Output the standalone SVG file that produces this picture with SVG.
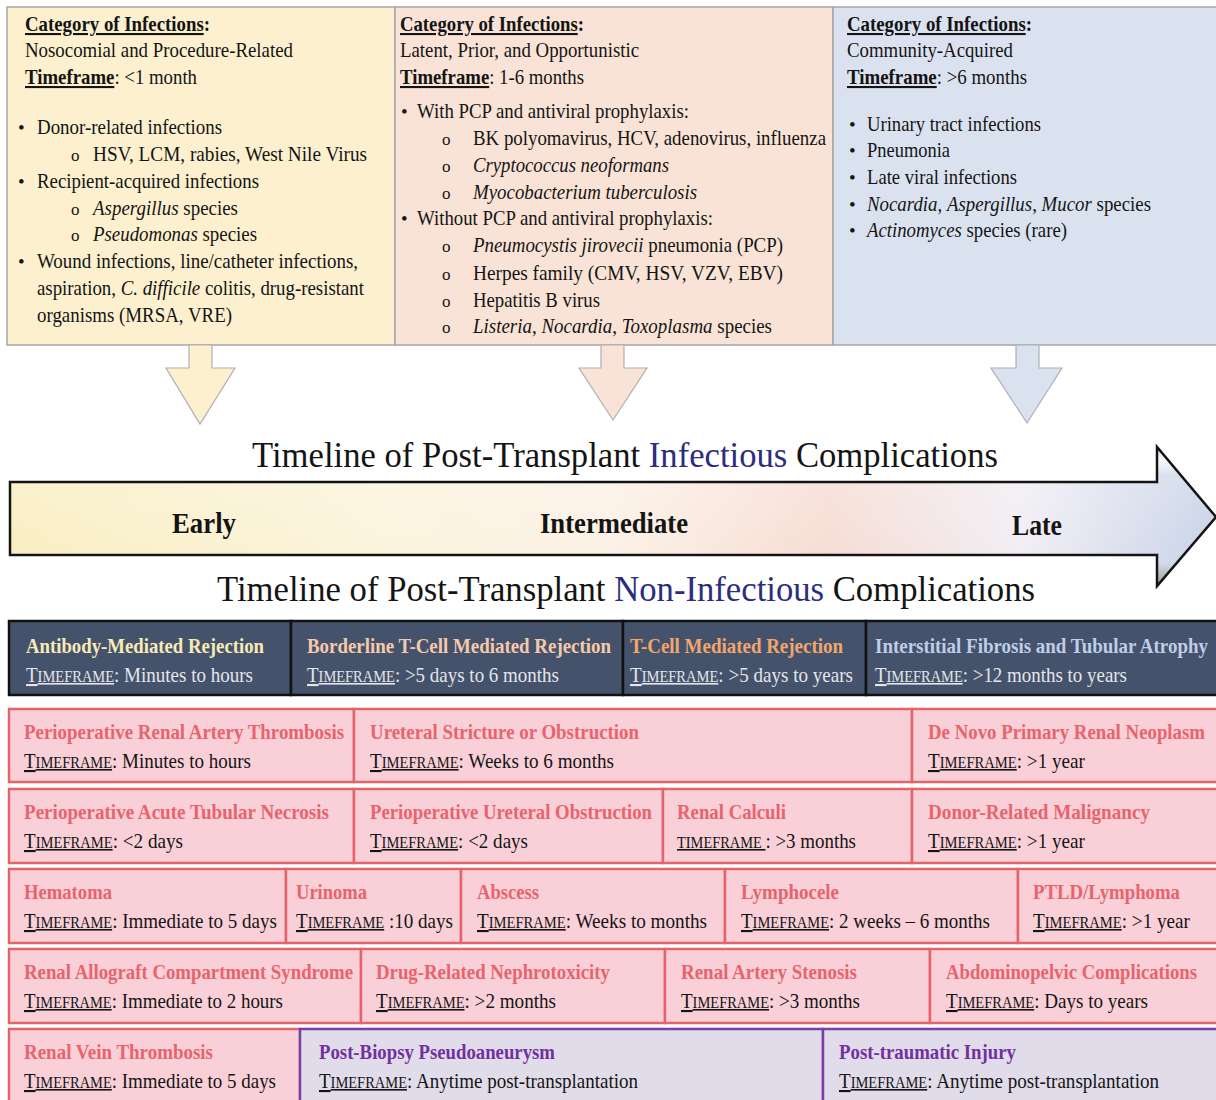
<svg xmlns="http://www.w3.org/2000/svg" width="1216" height="1100" viewBox="0 0 1216 1100">
<defs>
<style>
text{font-family:"Liberation Serif","Times New Roman",serif;font-size:21px;fill:#141414}
.b{font-weight:bold}
.i{font-style:italic}
.u{text-decoration:underline}
.sc{font-size:16px}
.bul{font-size:19px}
.sub{font-size:17px}
.pt{font-weight:bold;fill:#e8636c}
.vt{font-weight:bold;fill:#7230a0}
.dk{fill:#e4e6ea}
.pink{fill:#f9d0d8;stroke:#e5636b;stroke-width:2.5}
.purp{fill:#e1dcea;stroke:#7b3ea6;stroke-width:2.5}
.dark{fill:#44536b;stroke:#111;stroke-width:2.5}
.arr{stroke:#aeb0b4;stroke-width:1.2}
.big{font-size:36px}
.ax{font-size:30px;font-weight:bold}
</style>
<linearGradient id="tl" x1="0" y1="0" x2="1" y2="0">
<stop offset="0" stop-color="#f9eec2"/>
<stop offset="0.3" stop-color="#fcf4dc"/>
<stop offset="0.5" stop-color="#fcf1e6"/>
<stop offset="0.68" stop-color="#f6ddd4"/>
<stop offset="0.84" stop-color="#f1eef4"/>
<stop offset="1" stop-color="#c8d3e8"/>
</linearGradient>
<linearGradient id="bev" x1="0" y1="0" x2="0" y2="1">
<stop offset="0" stop-color="#ffffff" stop-opacity="0.1"/>
<stop offset="0.1" stop-color="#ffffff" stop-opacity="0.85"/>
<stop offset="0.2" stop-color="#ffffff" stop-opacity="0.2"/>
<stop offset="0.8" stop-color="#ffffff" stop-opacity="0"/>
<stop offset="0.9" stop-color="#6b5a40" stop-opacity="0.22"/>
<stop offset="1" stop-color="#3a3020" stop-opacity="0.35"/>
</linearGradient>
</defs>

<!-- Top infection boxes -->
<g id="box-early">
<rect x="7" y="7" width="388" height="338" fill="#fcf0cf" stroke="#a6a6a6" stroke-width="1.5"/>
<text x="25" y="31" class="b" textLength="185" lengthAdjust="spacingAndGlyphs"><tspan class="u">Category of Infections</tspan>:</text>
<text x="25" y="57" textLength="268" lengthAdjust="spacingAndGlyphs">Nosocomial and Procedure-Related</text>
<text x="25" y="84" textLength="172" lengthAdjust="spacingAndGlyphs"><tspan class="b u">Timeframe</tspan>: &lt;1 month</text>
<text x="18" y="134" class="bul">•</text>
<text x="37" y="134" textLength="185" lengthAdjust="spacingAndGlyphs">Donor-related infections</text>
<text x="71" y="161" class="sub">o</text>
<text x="93" y="161" textLength="274" lengthAdjust="spacingAndGlyphs">HSV, LCM, rabies, West Nile Virus</text>
<text x="18" y="188" class="bul">•</text>
<text x="37" y="188" textLength="222" lengthAdjust="spacingAndGlyphs">Recipient-acquired infections</text>
<text x="71" y="215" class="sub">o</text>
<text x="93" y="215" textLength="145" lengthAdjust="spacingAndGlyphs"><tspan class="i">Aspergillus</tspan> species</text>
<text x="71" y="241" class="sub">o</text>
<text x="93" y="241" textLength="164" lengthAdjust="spacingAndGlyphs"><tspan class="i">Pseudomonas</tspan> species</text>
<text x="18" y="268" class="bul">•</text>
<text x="37" y="268" textLength="321" lengthAdjust="spacingAndGlyphs">Wound infections, line/catheter infections,</text>
<text x="37" y="295" textLength="327" lengthAdjust="spacingAndGlyphs">aspiration, <tspan class="i">C. difficile</tspan> colitis, drug-resistant</text>
<text x="37" y="322" textLength="195" lengthAdjust="spacingAndGlyphs">organisms (MRSA, VRE)</text>
</g>

<g id="box-intermediate">
<rect x="395" y="7" width="438" height="338" fill="#f9e3d6" stroke="#a6a6a6" stroke-width="1.5"/>
<text x="400" y="31" class="b" textLength="184" lengthAdjust="spacingAndGlyphs"><tspan class="u">Category of Infections</tspan>:</text>
<text x="400" y="57" textLength="239" lengthAdjust="spacingAndGlyphs">Latent, Prior, and Opportunistic</text>
<text x="400" y="84" textLength="184" lengthAdjust="spacingAndGlyphs"><tspan class="b u">Timeframe</tspan>: 1-6 months</text>
<text x="401" y="118" class="bul">•</text>
<text x="417" y="118" textLength="272" lengthAdjust="spacingAndGlyphs">With PCP and antiviral prophylaxis:</text>
<text x="442" y="145" class="sub">o</text>
<text x="473" y="145" textLength="353" lengthAdjust="spacingAndGlyphs">BK polyomavirus, HCV, adenovirus, influenza</text>
<text x="442" y="172" class="sub">o</text>
<text x="473" y="172" class="i" textLength="196" lengthAdjust="spacingAndGlyphs">Cryptococcus neoformans</text>
<text x="442" y="199" class="sub">o</text>
<text x="473" y="199" class="i" textLength="224" lengthAdjust="spacingAndGlyphs">Myocobacterium tuberculosis</text>
<text x="401" y="225" class="bul">•</text>
<text x="417" y="225" textLength="296" lengthAdjust="spacingAndGlyphs">Without PCP and antiviral prophylaxis:</text>
<text x="442" y="252" class="sub">o</text>
<text x="473" y="252" textLength="310" lengthAdjust="spacingAndGlyphs"><tspan class="i">Pneumocystis jirovecii</tspan> pneumonia (PCP)</text>
<text x="442" y="280" class="sub">o</text>
<text x="473" y="280" textLength="310" lengthAdjust="spacingAndGlyphs">Herpes family (CMV, HSV, VZV, EBV)</text>
<text x="442" y="307" class="sub">o</text>
<text x="473" y="307" textLength="127" lengthAdjust="spacingAndGlyphs">Hepatitis B virus</text>
<text x="442" y="333" class="sub">o</text>
<text x="473" y="333" textLength="299" lengthAdjust="spacingAndGlyphs"><tspan class="i">Listeria</tspan>, <tspan class="i">Nocardia</tspan>, <tspan class="i">Toxoplasma</tspan> species</text>
</g>

<g id="box-late">
<rect x="833" y="7" width="390" height="338" fill="#dbe2ef" stroke="#a6a6a6" stroke-width="1.5"/>
<text x="847" y="31" class="b" textLength="185" lengthAdjust="spacingAndGlyphs"><tspan class="u">Category of Infections</tspan>:</text>
<text x="847" y="57" textLength="166" lengthAdjust="spacingAndGlyphs">Community-Acquired</text>
<text x="847" y="84" textLength="180" lengthAdjust="spacingAndGlyphs"><tspan class="b u">Timeframe</tspan>: &gt;6 months</text>
<text x="849" y="131" class="bul">•</text>
<text x="867" y="131" textLength="174" lengthAdjust="spacingAndGlyphs">Urinary tract infections</text>
<text x="849" y="157" class="bul">•</text>
<text x="867" y="157" textLength="83" lengthAdjust="spacingAndGlyphs">Pneumonia</text>
<text x="849" y="184" class="bul">•</text>
<text x="867" y="184" textLength="150" lengthAdjust="spacingAndGlyphs">Late viral infections</text>
<text x="849" y="211" class="bul">•</text>
<text x="867" y="211" textLength="284" lengthAdjust="spacingAndGlyphs"><tspan class="i">Nocardia</tspan>, <tspan class="i">Aspergillus</tspan>, <tspan class="i">Mucor</tspan> species</text>
<text x="849" y="237" class="bul">•</text>
<text x="867" y="237" textLength="200" lengthAdjust="spacingAndGlyphs"><tspan class="i">Actinomyces</tspan> species (rare)</text>
</g>

<!-- Connectors: down arrows to the timeline -->
<g id="connectors">
<polygon class="arr" fill="#fcf0cf" points="189,345 212,345 212,368 235,368 200,424 166,368 189,368"/>
<polygon class="arr" fill="#f9e3d6" points="601,345 624,345 624,368 647,368 613,420 579,368 601,368"/>
<polygon class="arr" fill="#dbe2ef" points="1016,345 1039,345 1039,368 1062,368 1027,423 991,368 1016,368"/>
</g>

<!-- Timeline -->
<g id="timeline">
<text x="252" y="467" class="big" textLength="746" lengthAdjust="spacingAndGlyphs">Timeline of Post-Transplant <tspan fill="#2c2d7e">Infectious</tspan> Complications</text>
<polygon points="10,482 1157,482 1157,447 1216,517 1157,586 1157,555 10,555" fill="url(#tl)"/>
<polygon points="10,482 1157,482 1157,447 1216,517 1157,586 1157,555 10,555" fill="url(#bev)" stroke="#141414" stroke-width="2.5"/>
<text x="172" y="533" class="ax" textLength="64" lengthAdjust="spacingAndGlyphs">Early</text>
<text x="540" y="533" class="ax" textLength="148" lengthAdjust="spacingAndGlyphs">Intermediate</text>
<text x="1012" y="535" class="ax" textLength="50" lengthAdjust="spacingAndGlyphs">Late</text>
<text x="217" y="601" class="big" textLength="818" lengthAdjust="spacingAndGlyphs">Timeline of Post-Transplant <tspan fill="#2c2d7e">Non-Infectious</tspan> Complications</text>
</g>

<!-- Rejection row -->
<g id="amr">
<rect class="dark" x="9" y="621" width="282" height="74"/>
<text x="26" y="653" class="b" fill="#f8e9b6" style="fill:#f8e9b6" textLength="238" lengthAdjust="spacingAndGlyphs">Antibody-Mediated Rejection</text>
<text x="26" y="682" class="dk" textLength="227" lengthAdjust="spacingAndGlyphs"><tspan class="u">T<tspan class="sc">IMEFRAME</tspan></tspan>: Minutes to hours</text>
</g>
<g id="borderline-tcmr">
<rect class="dark" x="291" y="621" width="332" height="74"/>
<text x="307" y="653" class="b" style="fill:#f5c9a9" textLength="304" lengthAdjust="spacingAndGlyphs">Borderline T-Cell Mediated Rejection</text>
<text x="307" y="682" class="dk" textLength="252" lengthAdjust="spacingAndGlyphs"><tspan class="u">T<tspan class="sc">IMEFRAME</tspan></tspan>: &gt;5 days to 6 months</text>
</g>
<g id="tcmr">
<rect class="dark" x="623" y="621" width="243" height="74"/>
<text x="630" y="653" class="b" style="fill:#f2a66c" textLength="213" lengthAdjust="spacingAndGlyphs">T-Cell Mediated Rejection</text>
<text x="630" y="682" class="dk" textLength="223" lengthAdjust="spacingAndGlyphs"><tspan class="u">T<tspan class="sc">IMEFRAME</tspan></tspan>: &gt;5 days to years</text>
</g>
<g id="ifta">
<rect class="dark" x="866" y="621" width="360" height="74"/>
<text x="875" y="653" class="b" style="fill:#bfcde8" textLength="333" lengthAdjust="spacingAndGlyphs">Interstitial Fibrosis and Tubular Atrophy</text>
<text x="875" y="682" class="dk" textLength="252" lengthAdjust="spacingAndGlyphs"><tspan class="u">T<tspan class="sc">IMEFRAME</tspan></tspan>: &gt;12 months to years</text>
</g>

<!-- Row 1 -->
<g id="prat">
<rect class="pink" x="9" y="709" width="345" height="73"/>
<text x="24" y="739" class="pt" textLength="320" lengthAdjust="spacingAndGlyphs">Perioperative Renal Artery Thrombosis</text>
<text x="24" y="768" textLength="227" lengthAdjust="spacingAndGlyphs"><tspan class="u">T<tspan class="sc">IMEFRAME</tspan></tspan>: Minutes to hours</text>
</g>
<g id="ureteral-stricture">
<rect class="pink" x="354" y="709" width="558" height="73"/>
<text x="370" y="739" class="pt" textLength="269" lengthAdjust="spacingAndGlyphs">Ureteral Stricture or Obstruction</text>
<text x="370" y="768" textLength="244" lengthAdjust="spacingAndGlyphs"><tspan class="u">T<tspan class="sc">IMEFRAME</tspan></tspan>: Weeks to 6 months</text>
</g>
<g id="de-novo">
<rect class="pink" x="912" y="709" width="312" height="73"/>
<text x="928" y="739" class="pt" textLength="277" lengthAdjust="spacingAndGlyphs">De Novo Primary Renal Neoplasm</text>
<text x="928" y="768" textLength="157" lengthAdjust="spacingAndGlyphs"><tspan class="u">T<tspan class="sc">IMEFRAME</tspan></tspan>: &gt;1 year</text>
</g>

<!-- Row 2 -->
<g id="atn">
<rect class="pink" x="9" y="789" width="345" height="74"/>
<text x="24" y="819" class="pt" textLength="305" lengthAdjust="spacingAndGlyphs">Perioperative Acute Tubular Necrosis</text>
<text x="24" y="848" textLength="159" lengthAdjust="spacingAndGlyphs"><tspan class="u">T<tspan class="sc">IMEFRAME</tspan></tspan>: &lt;2 days</text>
</g>
<g id="periop-ureteral">
<rect class="pink" x="354" y="789" width="309" height="74"/>
<text x="370" y="819" class="pt" textLength="282" lengthAdjust="spacingAndGlyphs">Perioperative Ureteral Obstruction</text>
<text x="370" y="848" textLength="158" lengthAdjust="spacingAndGlyphs"><tspan class="u">T<tspan class="sc">IMEFRAME</tspan></tspan>: &lt;2 days</text>
</g>
<g id="calculi">
<rect class="pink" x="663" y="789" width="249" height="74"/>
<text x="677" y="819" class="pt" textLength="109" lengthAdjust="spacingAndGlyphs">Renal Calculi</text>
<text x="677" y="848" textLength="179" lengthAdjust="spacingAndGlyphs"><tspan class="u sc">TIMEFRAME </tspan>: &gt;3 months</text>
</g>
<g id="donor-malignancy">
<rect class="pink" x="912" y="789" width="312" height="74"/>
<text x="928" y="819" class="pt" textLength="222" lengthAdjust="spacingAndGlyphs">Donor-Related Malignancy</text>
<text x="928" y="848" textLength="157" lengthAdjust="spacingAndGlyphs"><tspan class="u">T<tspan class="sc">IMEFRAME</tspan></tspan>: &gt;1 year</text>
</g>

<!-- Row 3 -->
<g id="hematoma">
<rect class="pink" x="9" y="869" width="277" height="74"/>
<text x="24" y="899" class="pt" textLength="88" lengthAdjust="spacingAndGlyphs">Hematoma</text>
<text x="24" y="928" textLength="253" lengthAdjust="spacingAndGlyphs"><tspan class="u">T<tspan class="sc">IMEFRAME</tspan></tspan>: Immediate to 5 days</text>
</g>
<g id="urinoma">
<rect class="pink" x="286" y="869" width="175" height="74"/>
<text x="296" y="899" class="pt" textLength="71" lengthAdjust="spacingAndGlyphs">Urinoma</text>
<text x="296" y="928" textLength="157" lengthAdjust="spacingAndGlyphs"><tspan class="u">T<tspan class="sc">IMEFRAME</tspan></tspan> :10 days</text>
</g>
<g id="abscess">
<rect class="pink" x="461" y="869" width="264" height="74"/>
<text x="477" y="899" class="pt" textLength="62" lengthAdjust="spacingAndGlyphs">Abscess</text>
<text x="477" y="928" textLength="230" lengthAdjust="spacingAndGlyphs"><tspan class="u">T<tspan class="sc">IMEFRAME</tspan></tspan>: Weeks to months</text>
</g>
<g id="lymphocele">
<rect class="pink" x="725" y="869" width="293" height="74"/>
<text x="741" y="899" class="pt" textLength="98" lengthAdjust="spacingAndGlyphs">Lymphocele</text>
<text x="741" y="928" textLength="249" lengthAdjust="spacingAndGlyphs"><tspan class="u">T<tspan class="sc">IMEFRAME</tspan></tspan>: 2 weeks – 6 months</text>
</g>
<g id="ptld">
<rect class="pink" x="1018" y="869" width="206" height="74"/>
<text x="1033" y="899" class="pt" textLength="147" lengthAdjust="spacingAndGlyphs">PTLD/Lymphoma</text>
<text x="1033" y="928" textLength="157" lengthAdjust="spacingAndGlyphs"><tspan class="u">T<tspan class="sc">IMEFRAME</tspan></tspan>: &gt;1 year</text>
</g>

<!-- Row 4 -->
<g id="compartment">
<rect class="pink" x="9" y="949" width="352" height="74"/>
<text x="24" y="979" class="pt" textLength="329" lengthAdjust="spacingAndGlyphs">Renal Allograft Compartment Syndrome</text>
<text x="24" y="1008" textLength="259" lengthAdjust="spacingAndGlyphs"><tspan class="u">T<tspan class="sc">IMEFRAME</tspan></tspan>: Immediate to 2 hours</text>
</g>
<g id="nephrotoxicity">
<rect class="pink" x="361" y="949" width="304" height="74"/>
<text x="376" y="979" class="pt" textLength="234" lengthAdjust="spacingAndGlyphs">Drug-Related Nephrotoxicity</text>
<text x="376" y="1008" textLength="180" lengthAdjust="spacingAndGlyphs"><tspan class="u">T<tspan class="sc">IMEFRAME</tspan></tspan>: &gt;2 months</text>
</g>
<g id="ras">
<rect class="pink" x="665" y="949" width="265" height="74"/>
<text x="681" y="979" class="pt" textLength="176" lengthAdjust="spacingAndGlyphs">Renal Artery Stenosis</text>
<text x="681" y="1008" textLength="179" lengthAdjust="spacingAndGlyphs"><tspan class="u">T<tspan class="sc">IMEFRAME</tspan></tspan>: &gt;3 months</text>
</g>
<g id="abdominopelvic">
<rect class="pink" x="930" y="949" width="294" height="74"/>
<text x="946" y="979" class="pt" textLength="251" lengthAdjust="spacingAndGlyphs">Abdominopelvic Complications</text>
<text x="946" y="1008" textLength="202" lengthAdjust="spacingAndGlyphs"><tspan class="u">T<tspan class="sc">IMEFRAME</tspan></tspan>: Days to years</text>
</g>

<!-- Row 5 -->
<g id="rvt">
<rect class="pink" x="9" y="1029" width="291" height="90"/>
<text x="24" y="1059" class="pt" textLength="189" lengthAdjust="spacingAndGlyphs">Renal Vein Thrombosis</text>
<text x="24" y="1088" textLength="252" lengthAdjust="spacingAndGlyphs"><tspan class="u">T<tspan class="sc">IMEFRAME</tspan></tspan>: Immediate to 5 days</text>
</g>
<g id="pseudoaneurysm">
<rect class="purp" x="300" y="1029" width="523" height="90"/>
<text x="319" y="1059" class="vt" textLength="236" lengthAdjust="spacingAndGlyphs">Post-Biopsy Pseudoaneurysm</text>
<text x="319" y="1088" textLength="319" lengthAdjust="spacingAndGlyphs"><tspan class="u">T<tspan class="sc">IMEFRAME</tspan></tspan>: Anytime post-transplantation</text>
</g>
<g id="trauma">
<rect class="purp" x="823" y="1029" width="401" height="90"/>
<text x="839" y="1059" class="vt" textLength="177" lengthAdjust="spacingAndGlyphs">Post-traumatic Injury</text>
<text x="839" y="1088" textLength="320" lengthAdjust="spacingAndGlyphs"><tspan class="u">T<tspan class="sc">IMEFRAME</tspan></tspan>: Anytime post-transplantation</text>
</g>
</svg>
